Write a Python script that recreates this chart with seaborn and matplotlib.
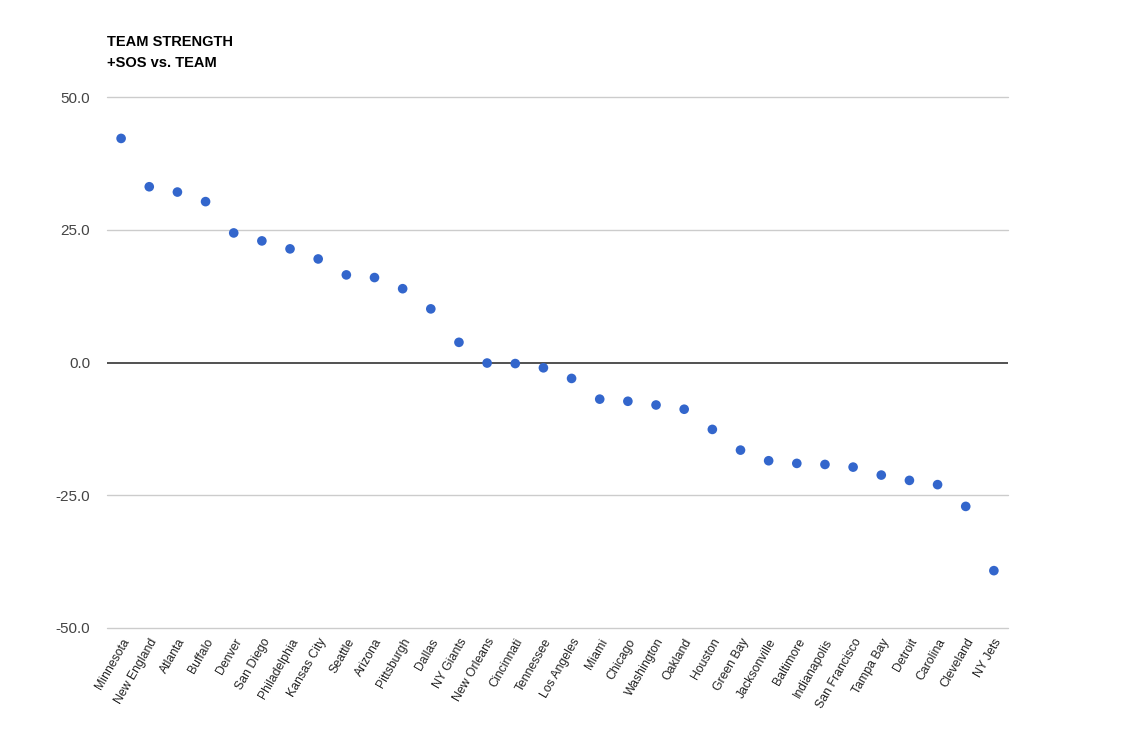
import numpy as np
import pandas as pd
import matplotlib
matplotlib.use("Agg")
import matplotlib.pyplot as plt
import seaborn as sns

teams = [
    "Minnesota", "New England", "Atlanta", "Buffalo", "Denver", "San Diego",
    "Philadelphia", "Kansas City", "Seattle", "Arizona", "Pittsburgh", "Dallas",
    "NY Giants", "New Orleans", "Cincinnati", "Tennessee", "Los Angeles", "Miami",
    "Chicago", "Washington", "Oakland", "Houston", "Green Bay", "Jacksonville",
    "Baltimore", "Indianapolis", "San Francisco", "Tampa Bay", "Detroit",
    "Carolina", "Cleveland", "NY Jets",
]
strength = [
    42.2, 33.1, 32.1, 30.3, 24.4, 22.9,
    21.4, 19.5, 16.5, 16.0, 13.9, 10.1,
    3.8, -0.1, -0.2, -1.0, -3.0, -6.9,
    -7.3, -8.0, -8.8, -12.6, -16.5, -18.5,
    -19.0, -19.2, -19.7, -21.2, -22.2,
    -23.0, -27.1, -39.2,
]
y_ticks = [-50, -25, 0, 25, 50]

df = pd.DataFrame({"team": teams, "strength": strength})
df["pos"] = np.arange(len(df))

sns.set_style("white")
plt.rcParams["font.family"] = ["Liberation Sans", "DejaVu Sans"]

fig = plt.figure(figsize=(11.41, 7.52), dpi=100)
ax = fig.add_axes([0.0938, 0.1649, 0.7896, 0.7061])

# zero line dark, other gridlines light grey
ax.axhline(0, color="#333333", lw=1.2, zorder=1)
for t in y_ticks:
    if t != 0:
        ax.axhline(t, color="#cccccc", lw=1, zorder=0, clip_on=False)

sns.scatterplot(
    data=df, x="pos", y="strength", ax=ax,
    color="#3366cc", s=48, edgecolor="none", zorder=3, legend=False,
)

ax.set_xlim(-0.5, len(teams) - 0.5)
ax.set_ylim(-50, 50)
ax.set_yticks(y_ticks)
ax.set_yticklabels([f"{t:.1f}" for t in y_ticks], color="#444444", fontsize=11)
ax.set_xticks(df["pos"])
ax.set_xticklabels(
    teams, rotation=60, ha="right", rotation_mode="anchor",
    fontsize=8.8, color="#222222",
)
ax.tick_params(axis="y", length=0, pad=12)
ax.tick_params(axis="x", length=0, pad=6)
ax.set_xlabel("")
ax.set_ylabel("")
for s in ax.spines.values():
    s.set_visible(False)

fig.text(0.0938, 0.930, "TEAM STRENGTH\n+SOS vs. TEAM", fontsize=10.5,
         fontweight="bold", ha="left", va="center", linespacing=1.7,
         color="black")

fig.savefig("out.png", dpi=100, facecolor="white")
